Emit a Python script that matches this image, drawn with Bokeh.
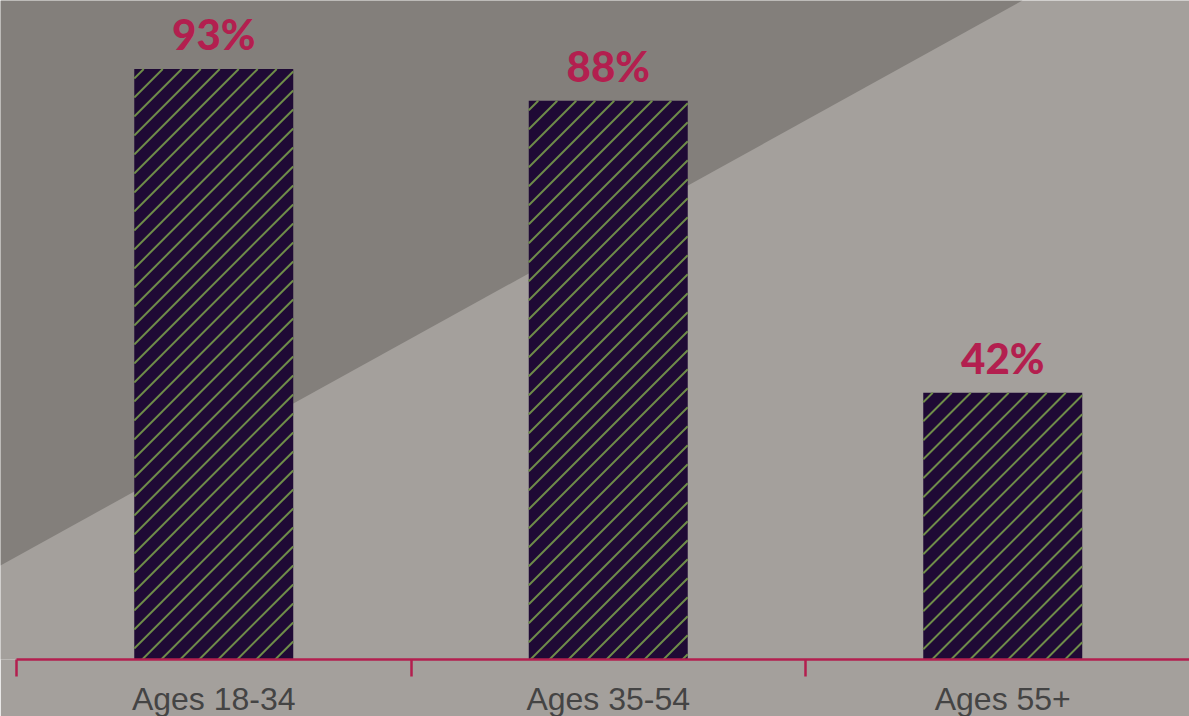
from bokeh.plotting import figure
from bokeh.models import Range1d, FixedTicker, PolyAnnotation, ColumnDataSource
from bokeh.core.properties import value
from bokeh.embed import file_html
from bokeh.resources import INLINE

categories = ["Ages 18-34", "Ages 35-54", "Ages 55+"]
shares = [93, 88, 42]

xs = [i + 0.5 for i in range(len(categories))]
labels = [f"{v}%" for v in shares]

BG = "#a4a09c"
DARK = "#837f7b"
CRIMSON = "#b31f4f"
BAR = "#1f0a35"
HATCH = "#6f8c4a"

FW, FH = 1189, 659
X0, X1 = -16 / 394.5, (1189 - 16) / 394.5
Y0, Y1 = 0, FH / 6.35
BAR_W = 0.403

p = figure(frame_width=FW, frame_height=FH, output_backend="svg", toolbar_location=None,
           x_range=Range1d(X0, X1), y_range=Range1d(Y0, Y1),
           min_border_left=0, min_border_right=0, min_border_top=0, min_border_bottom=0)
p.background_fill_color = BG
p.border_fill_color = BG
p.outline_line_color = None
p.grid.visible = False
p.yaxis.visible = False

# decorative darker triangle in the upper-left (screen y measured from frame bottom)
tri = PolyAnnotation(xs=[0, 1022, 0], ys=[FH, FH, FH - 565], xs_units="screen", ys_units="screen",
                     fill_color=DARK, fill_alpha=1.0, line_color=None, level="underlay")
p.add_layout(tri)

src = ColumnDataSource(dict(x=xs, top=shares, label=labels))
p.vbar(x="x", top="top", bottom=0, width=BAR_W, source=src,
       fill_color=BAR, line_color=None)

# 45-degree hatch lines clipped to each bar, derived from bar data and the scales
kx = FW / (X1 - X0)
ky = FH / (Y1 - Y0)
step = 19.0
hx0, hy0, hx1, hy1 = [], [], [], []
for xc, top in zip(xs, shares):
    left = xc - BAR_W / 2
    W = BAR_W * kx
    H = top * ky
    c = -H + (step / 2)
    while c < W:
        ya = max(0.0, -c)
        yb = min(H, W - c)
        if yb > ya:
            hx0.append(left + (c + ya) / kx)
            hy0.append(ya / ky)
            hx1.append(left + (c + yb) / kx)
            hy1.append(yb / ky)
        c += step
p.segment(x0=hx0, y0=hy0, x1=hx1, y1=hy1, line_color=HATCH, line_width=2)

p.text(x="x", y="top", text="label", source=src, y_offset=-35,
       text_align="center", text_baseline="alphabetic",
       text_font=value("'Lato Black', Lato"), text_font_style="bold", text_font_size="42px",
       text_color=CRIMSON)

ax = p.xaxis[0]
ax.ticker = FixedTicker(ticks=xs, minor_ticks=list(range(len(categories) + 1)))
ax.major_label_overrides = {x: c for x, c in zip(xs, categories)}
ax.bounds = (0, 3.2)
ax.axis_line_color = CRIMSON
ax.axis_line_width = 2.5
ax.major_tick_line_color = None
ax.major_tick_out = 0
ax.major_tick_in = 0
ax.minor_tick_line_color = CRIMSON
ax.minor_tick_line_width = 2.5
ax.minor_tick_out = 17
ax.minor_tick_in = 0
ax.major_label_standoff = 4
ax.major_label_text_font = "Liberation Sans"
ax.major_label_text_font_size = "32px"
ax.major_label_text_color = "#444444"

open("out.html", "w").write(file_html(p, INLINE))
